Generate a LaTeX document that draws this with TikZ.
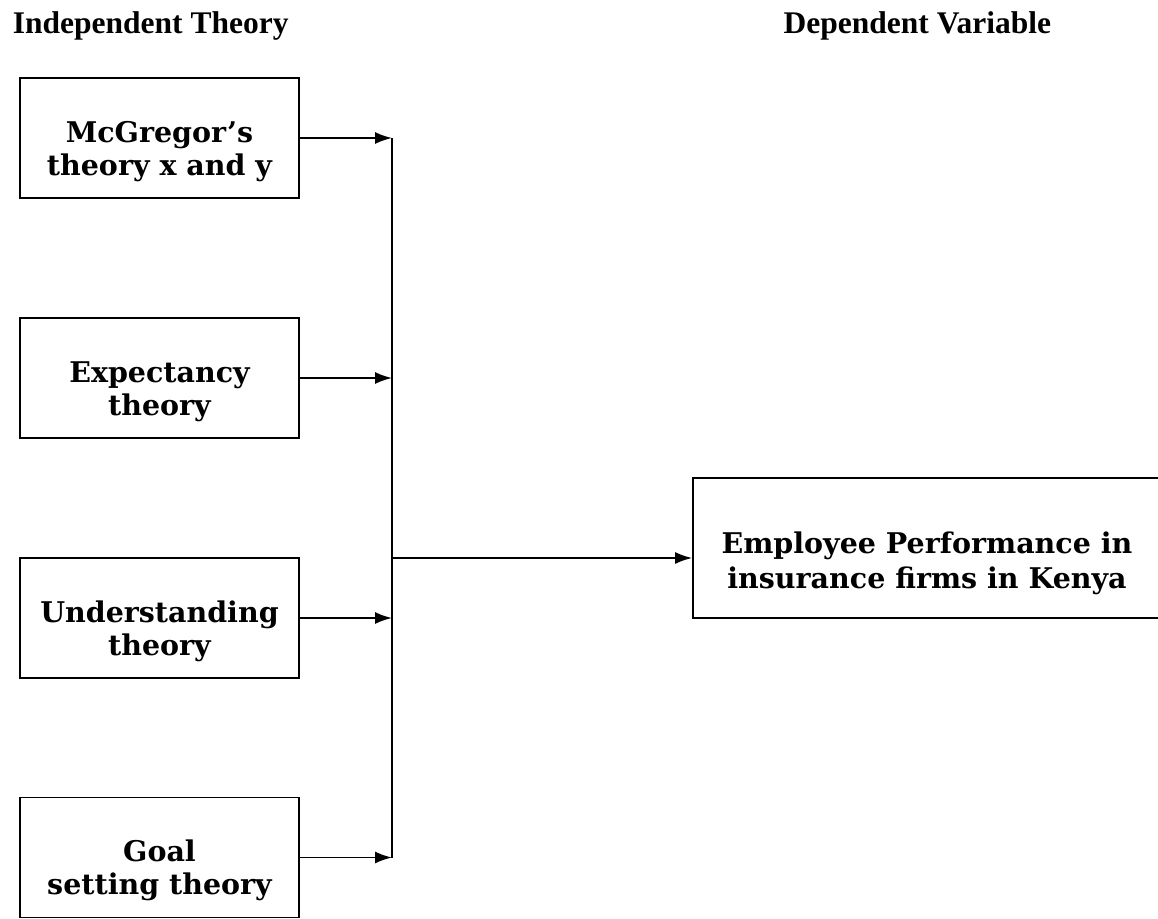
\documentclass[tikz,border=0pt]{standalone}
\usepackage{fontspec}
\setmainfont{Liberation Serif}
\newfontfamily\boxfont{DejaVu Serif}
\usetikzlibrary{arrows.meta}
\tikzset{>={Latex[length=17pt,width=12pt]}}
\def\linethickness{1.8pt}
\tikzset{
  theorybox/.style={draw, line width=\linethickness, minimum width=279pt, minimum height=120pt,
    align=center, inner sep=0pt, text height=74pt, text depth=0pt,
    font=\boxfont\bfseries\fontsize{28.5}{33}\selectfont},
  heading/.style={inner sep=0pt, font=\bfseries\fontsize{31.5}{36}\selectfont},
}

\begin{document}
\begin{tikzpicture}[x=1pt, y=-1pt, ->, line width=\linethickness]
    \useasboundingbox (0, 0) rectangle (1158, 918);
    \node[heading, anchor=base west] at (12, 33) (indep) {Independent Theory};
    \node[heading, anchor=base east] at (1052, 33) (dep) {Dependent Variable};
    \node[theorybox] at (159.5, 138) (mcg) {McGregor’s\\theory x and y};
    \node[theorybox] at (159.5, 378) (expect) {Expectancy\\theory};
    \node[theorybox] at (159.5, 618) (under) {Understanding\\theory};
    \node[theorybox] at (159.5, 857.5) (goal) {Goal\\setting theory};
    \node[theorybox, minimum width=468pt, minimum height=140pt,
          text height=80pt, font=\boxfont\bfseries\fontsize{28.5}{35}\selectfont]
        at (927, 548) (perf) {Employee Performance in\\insurance firms in Kenya};
    \coordinate (jtop) at (392, 138);
    \coordinate (jmid) at (392, 558);
    \coordinate (jbot) at (392, 858);
    \draw[-] (jtop) -- (jbot);
    \draw (mcg) -- (mcg -| jtop);
    \draw (expect) -- (expect -| jtop);
    \draw (under) -- (under -| jtop);
    \draw (goal) -- (goal -| jtop);
    \draw (jmid) -- (jmid -| perf.west);
\end{tikzpicture}
\end{document}
